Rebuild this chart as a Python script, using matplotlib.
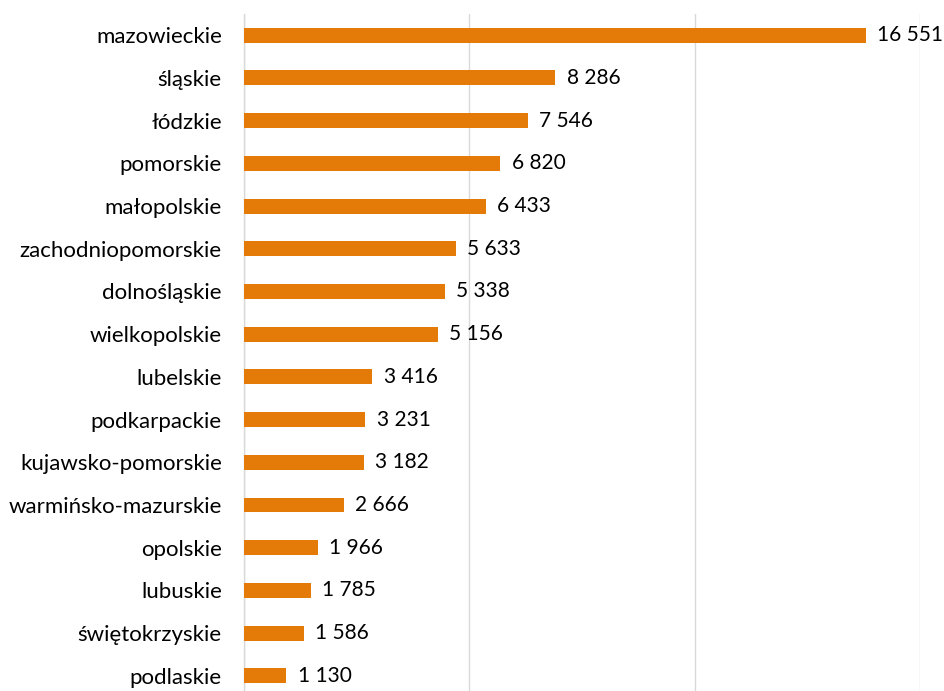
import matplotlib
matplotlib.use("Agg")
import matplotlib.pyplot as plt

# voivodeships, top to bottom
regions = ["mazowieckie", "śląskie", "łódzkie", "pomorskie", "małopolskie",
           "zachodniopomorskie", "dolnośląskie", "wielkopolskie", "lubelskie",
           "podkarpackie", "kujawsko-pomorskie", "warmińsko-mazurskie",
           "opolskie", "lubuskie", "świętokrzyskie", "podlaskie"]
values = [16551, 8286, 7546, 6820, 6433, 5633, 5338, 5156, 3416,
          3231, 3182, 2666, 1966, 1785, 1586, 1130]
grid_ticks = [0, 6000, 12000, 18000]

plt.rcParams['font.family'] = ['Lato', 'DejaVu Sans']

fig = plt.figure(figsize=(9.44, 6.91), dpi=100)
ax = fig.add_axes([0.2585, -0.009, 0.7165, 0.989])

pos = list(range(len(regions)))
ax.barh(pos, values, height=0.35, color="#E47A07", zorder=3)

for y, v in zip(pos, values):
    txt = f"{v:,}".replace(",", " ")
    ax.text(v + 300, y, txt, va="center", ha="left", fontsize=15, color="black")

ax.set_yticks(pos)
ax.set_yticklabels(regions, fontsize=16, color="black")
ax.tick_params(axis="y", length=0, pad=16)
ax.set_xticks(grid_ticks)
ax.tick_params(axis="x", length=0, labelbottom=False)
ax.set_xlim(0, 18000)
ax.set_ylim(len(regions) - 0.5, -0.5)

ax.grid(axis="x", color="#D9D9D9", linewidth=1, zorder=0)
for s in ["top", "right", "bottom"]:
    ax.spines[s].set_visible(False)
ax.spines["left"].set_color("#D9D9D9")
ax.spines["left"].set_linewidth(1)

fig.savefig("out.png", dpi=100)
